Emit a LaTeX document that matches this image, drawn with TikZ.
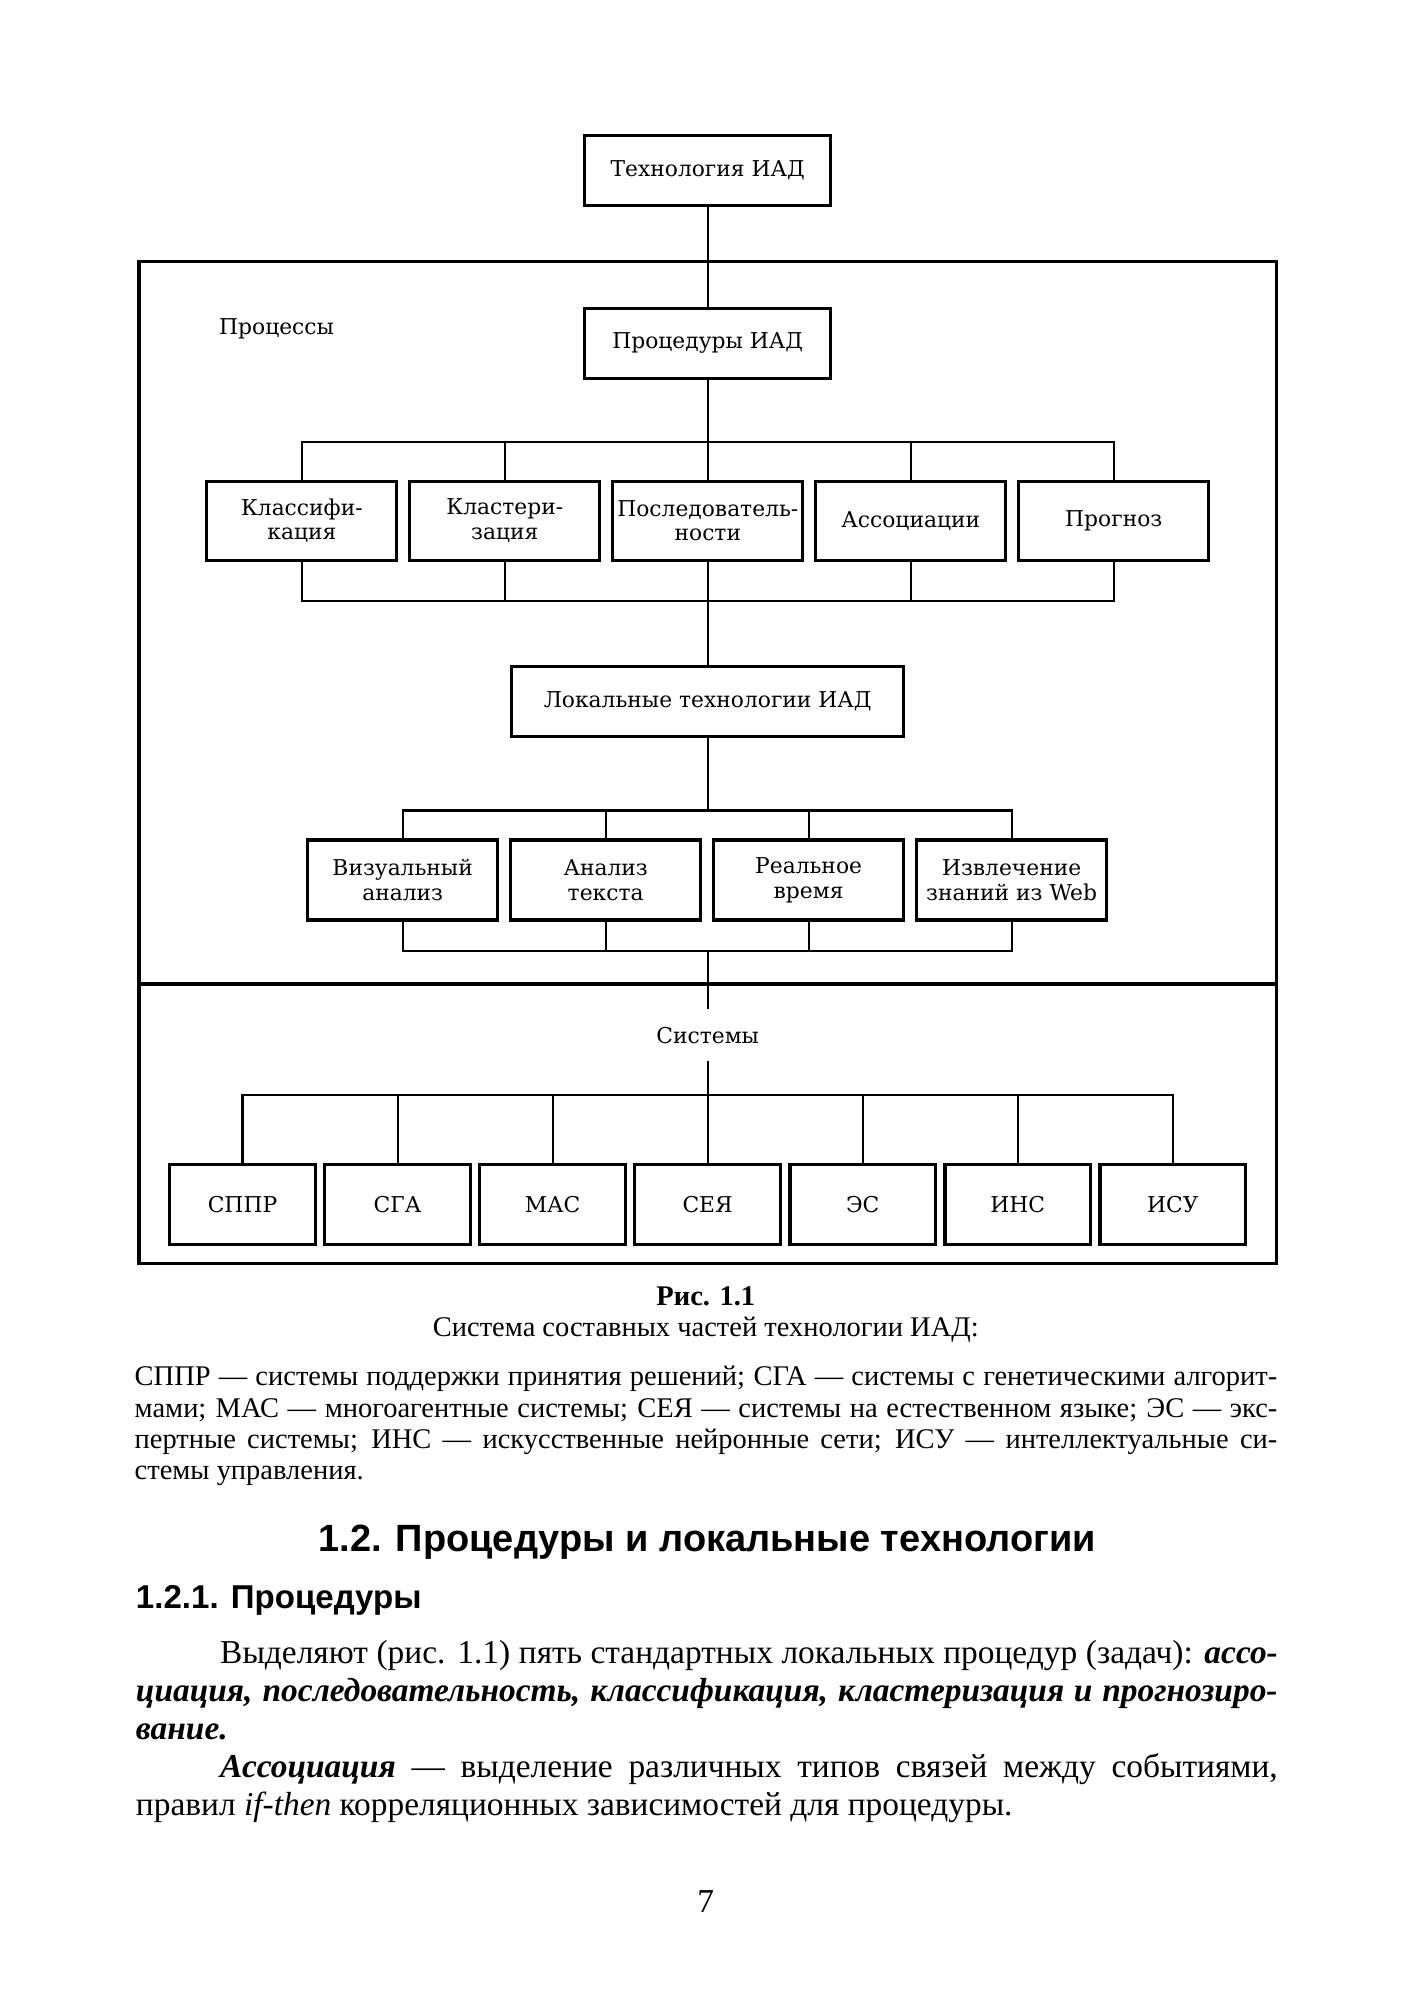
\documentclass[tikz,border=0pt]{standalone}
\usepackage{fontspec}
\setmainfont{Liberation Serif}
\setsansfont{Liberation Sans}
\newfontfamily\schfont{DejaVu Serif}
\usetikzlibrary{chains,positioning}

\begin{document}
\begin{tikzpicture}[x=0.01276cm, y=-0.01276cm,
  blk/.style={draw, line width=0.9pt, align=center, inner sep=1pt,
    font=\schfont\fontsize{6.2}{7}\selectfont},
  hdbox/.style={blk, minimum width=2.46cm, minimum height=0.70cm},
  procbox/.style={blk, minimum width=1.90cm, minimum height=0.79cm, on chain},
  techbox/.style={blk, minimum width=1.90cm, minimum height=0.80cm, on chain},
  sysbox/.style={blk, minimum width=1.455cm, minimum height=0.80cm, on chain},
  wire/.style={line width=0.6pt},
  lbl/.style={font=\schfont\fontsize{6.2}{7}\selectfont},
  txtline/.style={inner sep=0pt, anchor=west},
  legfont/.style={font=\fontsize{8.1}{9}\selectfont},
  bodyfont/.style={font=\fontsize{9.5}{11}\selectfont}]

  \useasboundingbox (0,0) rectangle (1108,1567);

  \draw[line width=1pt] (109,205) rectangle (1000,990);
  \draw[line width=1pt] (109,771) -- (1000,771);

  \node[hdbox] (tech) at (554.5,133.5) {Технология ИАД};
  \node[hdbox] (proc) at (554.5,269) {Процедуры ИАД};
  \node[lbl, anchor=west] (prc) at (162,258) {Процессы};

  \begin{scope}[start chain=going right, node distance=0.097cm]
    \node[procbox] (cls) at (236.5,408) {Классифи-\\кация};
    \node[procbox] (clu) {Кластери-\\зация};
    \node[procbox] (seq) {Последователь-\\ности};
    \node[procbox] (ass) {Ассоциации};
    \node[procbox] (prg) {Прогноз};
  \end{scope}

  \node[hdbox, minimum width=3.92cm] (loc) at (554.5,549.5) {Локальные технологии ИАД};

  \begin{scope}[start chain=going right, node distance=0.097cm]
    \node[techbox] (vis) at (315.5,689.5) {Визуальный\\анализ};
    \node[techbox] (txa) {Анализ\\текста};
    \node[techbox] (rtm) {Реальное\\время};
    \node[techbox] (web) {Извлечение\\знаний из Web};
  \end{scope}

  \node[lbl, minimum height=0.51cm] (sysl) at (554.5,811) {Системы};

  \begin{scope}[start chain=going right, node distance=0.063cm]
    \node[sysbox] (sppr) at (190,943.5) {СППР};
    \node[sysbox] (sga) {СГА};
    \node[sysbox] (mas) {МАС};
    \node[sysbox] (sey) {СЕЯ};
    \node[sysbox] (es) {ЭС};
    \node[sysbox] (ins) {ИНС};
    \node[sysbox] (isu) {ИСУ};
  \end{scope}

  \coordinate (busA) at (554.5,346);
  \coordinate (busB) at (554.5,471);
  \coordinate (busC) at (554.5,635);
  \coordinate (busD) at (554.5,745);
  \coordinate (busE) at (554.5,858);

  \draw[wire] (tech) -- (proc);
  \draw[wire] (proc) -- (busA);
  \draw[wire] (cls.north) |- (busA) -| (prg.north);
  \draw[wire] (cls.south) |- (busB) -| (prg.south);
  \foreach \n in {clu,seq,ass} {
    \draw[wire] (\n.north) -- (\n.north |- busA);
    \draw[wire] (\n.south) -- (\n.south |- busB);
  }
  \draw[wire] (busB) -- (loc);
  \draw[wire] (loc) -- (busC);
  \draw[wire] (vis.north) |- (busC) -| (web.north);
  \draw[wire] (vis.south) |- (busD) -| (web.south);
  \foreach \n in {txa,rtm} {
    \draw[wire] (\n.north) -- (\n.north |- busC);
    \draw[wire] (\n.south) -- (\n.south |- busD);
  }
  \draw[wire] (busD) -- (sysl);
  \draw[wire] (sysl) -- (busE);
  \draw[wire] (sppr.north) |- (busE) -| (isu.north);
  \foreach \n in {sga,mas,sey,es,ins}
    \draw[wire] (\n.north) -- (\n.north |- busE);

  \node[font=\bfseries\fontsize{8.1}{9}\selectfont] (fig) at (553,1016) {Рис. 1.1};
  \node[legfont] (cap) at (553,1042) {Система составных частей технологии ИАД:};
  \node[txtline, legfont] (leg1) at (105,1080) {\makebox[11.42cm][s]{СППР — системы поддержки принятия решений; СГА — системы с генетическими алгорит-}};
  \node[txtline, legfont] (leg2) at (105,1105) {\makebox[11.42cm][s]{мами; МАС — многоагентные системы; СЕЯ — системы на естественном языке; ЭС — экс-}};
  \node[txtline, legfont] (leg3) at (105,1130) {\makebox[11.42cm][s]{пертные системы; ИНС — искусственные нейронные сети; ИСУ — интеллектуальные си-}};
  \node[txtline, legfont] (leg4) at (105,1156) {стемы управления.};

  \node[font=\sffamily\bfseries\fontsize{10.8}{13}\selectfont] (sec) at (554,1208) {1.2. Процедуры и локальные технологии};
  \node[txtline, font=\sffamily\bfseries\fontsize{9.4}{11}\selectfont] (subsec) at (106,1254) {1.2.1. Процедуры};

  \node[txtline, bodyfont] (p1) at (172,1297) {\makebox[10.57cm][s]{Выделяют (рис. 1.1) пять стандартных локальных процедур (задач): \textbf{\textit{ассо-}}}};
  \node[txtline, bodyfont] (p2) at (106,1327) {\makebox[11.41cm][s]{\textbf{\textit{циация, последовательность, классификация, кластеризация и прогнозиро-}}}};
  \node[txtline, bodyfont] (p3) at (106,1357) {\textbf{\textit{вание.}}};
  \node[txtline, bodyfont] (p4) at (172,1386) {\makebox[10.57cm][s]{\textbf{\textit{Ассоциация}} — выделение различных типов связей между событиями,}};
  \node[txtline, bodyfont] (p5) at (106,1416) {правил \textit{if-then} корреляционных зависимостей для процедуры.};

  \node[bodyfont] (page) at (553,1490) {7};
\end{tikzpicture}
\end{document}
